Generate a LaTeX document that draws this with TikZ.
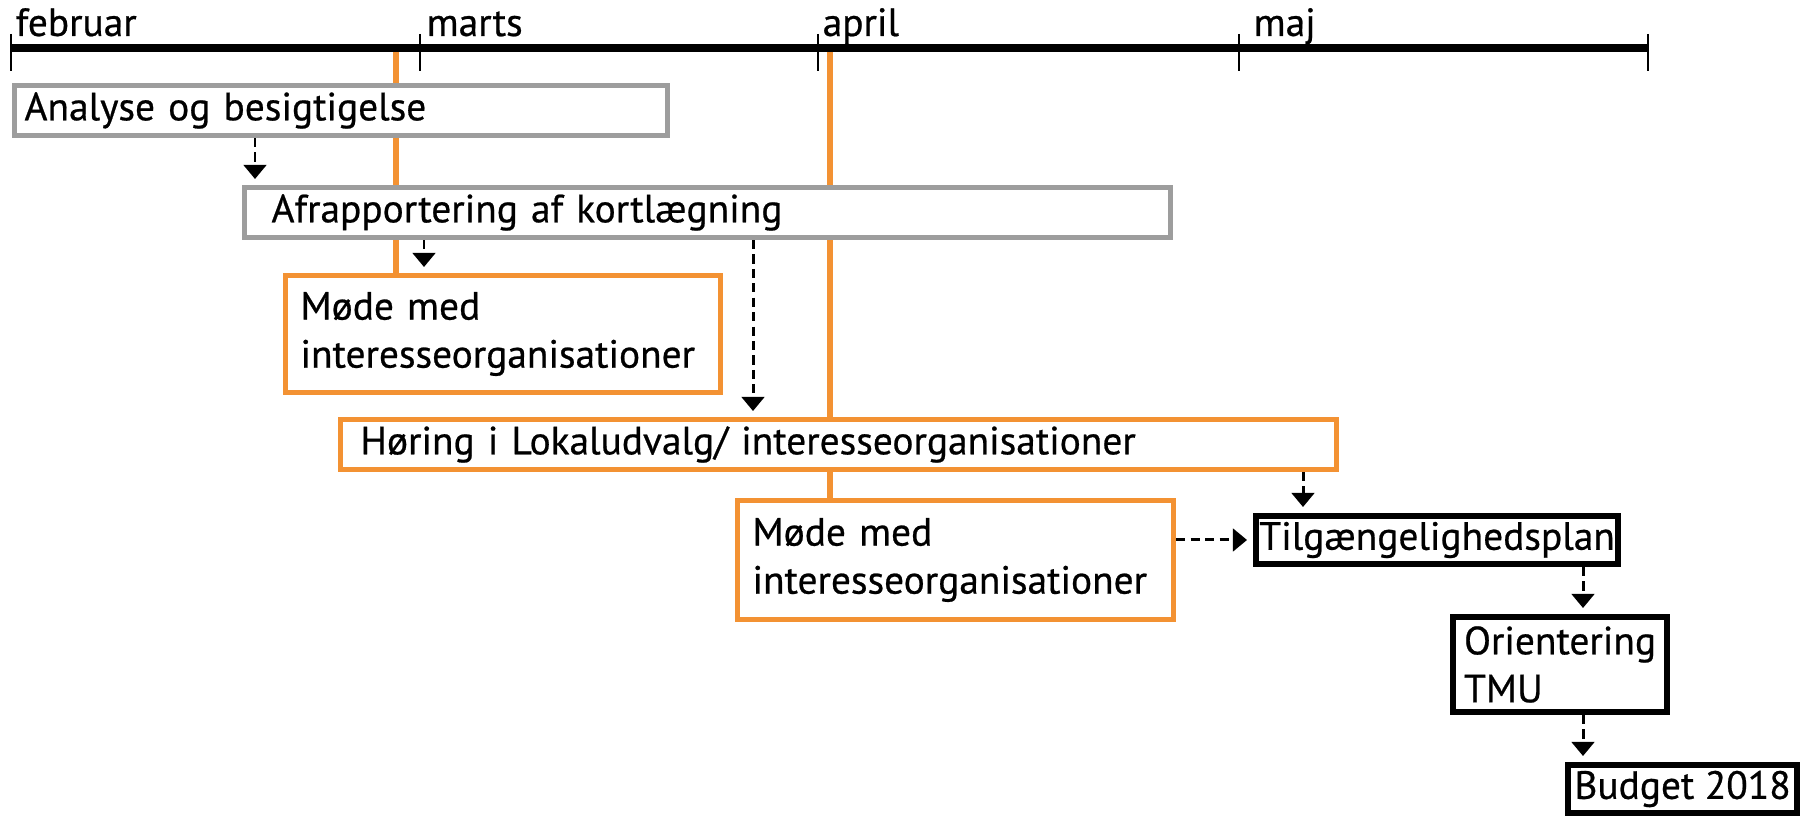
\documentclass[tikz,border=0pt]{standalone}
\usepackage{fontspec}
\setmainfont[FakeBold=0.6]{PT Sans}
\usetikzlibrary{arrows.meta,calc,backgrounds}
\definecolor{kbhorange}{RGB}{243,146,51}
\definecolor{boxgrey}{RGB}{157,157,157}

\begin{document}
\begin{tikzpicture}[x=0.01cm,y=-0.01cm,font=\fontsize{11.2}{13.66}\selectfont]
    \tikzstyle{task node}=[draw,fill=white,anchor=north west,align=left,inner xsep=0.1cm,inner ysep=0pt]
    \tikzstyle{grey node}=[task node,draw=boxgrey,line width=1.42pt]
    \tikzstyle{orange node}=[task node,draw=kbhorange,line width=1.42pt]
    \tikzstyle{black node}=[task node,draw=black,line width=1.7pt,inner xsep=0pt]
    \tikzstyle{month}=[anchor=base west,inner sep=0pt]
    \tikzstyle{flow edge}=[draw,line width=0.85pt,dash pattern=on 2.6pt off 1.5pt,-{Triangle[width=6.4pt,length=4pt]},shorten >=1.7pt]
    \tikzstyle{milestone}=[draw=kbhorange,line width=1.6pt]

    \useasboundingbox (0,0) rectangle (1802,816);

% time line
    \coordinate (t0) at (11,48);
    \coordinate (t1) at (420,48);
    \coordinate (t2) at (818,48);
    \coordinate (t3) at (1239,48);
    \coordinate (t4) at (1648,48);
    \draw[line width=2.3pt] (t0) -- (t4);
    \draw[line width=0.4pt] (t0) ++(0,-14) -- ++(0,37);
    \draw[line width=0.4pt] (t1) ++(0,-14) -- ++(0,37);
    \draw[line width=0.4pt] (t2) ++(0,-14) -- ++(0,37);
    \draw[line width=0.4pt] (t3) ++(0,-14) -- ++(0,37);
    \draw[line width=0.4pt] (t4) ++(0,-14) -- ++(0,37);
    \node[month] (feb) at (15,36) {februar};
    \node[month] (mar) at (426,36) {marts};
    \node[month] (apr) at (822,36) {april};
    \node[month] (maj) at (1253,36) {maj};

% activities
    \node[grey node,text width=6.33cm,minimum height=0.5cm] (ana) at (12,83) {Analyse og besigtigelse};
    \node[grey node,inner xsep=0.27cm,text width=8.71cm,minimum height=0.5cm] (afr) at (242,185) {Afrapportering af kortlægning};
    \node[orange node,inner xsep=0.15cm,text width=4.05cm,minimum height=1.17cm] (mode1) at (283,273) {Møde med\\interesseorganisationer};
    \node[orange node,inner xsep=0.2cm,text width=9.55cm,minimum height=0.5cm] (hoer) at (338,417) {Høring i Lokaludvalg/ interesseorganisationer};
    \node[orange node,inner xsep=0.15cm,text width=4.06cm,minimum height=1.19cm] (mode2) at (735,498) {Møde med\\interesseorganisationer};
    \node[black node,minimum width=3.62cm,minimum height=0.48cm] (tilg) at (1253,513) {Tilgængelighedsplan};
    \node[black node,minimum width=2.14cm,minimum height=0.95cm] (orient) at (1450,614) {Orientering\\TMU};
    \node[black node,minimum width=2.29cm,minimum height=0.48cm] (budget) at (1565,762) {Budget 2018};

% milestones behind the boxes
    \begin{scope}[on background layer]
        \coordinate (o1) at (396,48);
        \coordinate (o2) at (830,48);
        \draw[milestone] (o1) -- (o1 |- mode1.north);
        \draw[milestone] (o2) -- (o2 |- hoer.north);
        \draw[milestone] (o2 |- hoer.south) -- (o2 |- mode2.north);
    \end{scope}

% dependencies
    \draw[flow edge] ($(ana.south west)+(243,0)$) -- ($(afr.north west)+(13,0)$);
    \draw[flow edge] ($(afr.south west)+(182,0)$) -- ($(mode1.north west)+(141,0)$);
    \draw[flow edge] ($(afr.south west)+(511,0)$) -- ($(hoer.north west)+(415,0)$);
    \draw[flow edge] ($(hoer.south west)+(965,0)$) -- ($(tilg.north west)+(50,0)$);
    \draw[flow edge] ($(mode2.north east)+(0,42)$) -- ($(tilg.north west)+(0,27)$);
    \draw[flow edge] ($(tilg.south west)+(330,0)$) -- ($(orient.north west)+(133,0)$);
    \draw[flow edge] ($(orient.south west)+(133,0)$) -- ($(budget.north west)+(18,0)$);
\end{tikzpicture}
\end{document}
